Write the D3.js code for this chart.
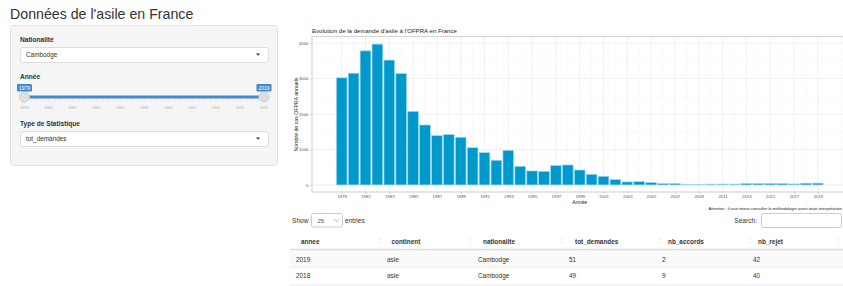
<!DOCTYPE html>
<html>
<head>
<meta charset="utf-8">
<script src="https://cdn.jsdelivr.net/npm/d3@7"></script>
<style>
html,body{margin:0;padding:0;background:#fff;overflow:hidden;}
svg{display:block;font-family:"Liberation Sans",Arial,Helvetica,sans-serif;}
</style>
</head>
<body>
<svg id="page" width="843" height="286"></svg>
<script>
// ---------- data ----------
const years = [1979,1980,1981,1982,1983,1984,1985,1986,1987,1988,
               1989,1990,1991,1992,1993,1994,1995,1996,1997,1998,
               1999,2000,2001,2002,2003,2004,2005,2006,2007,2008,
               2009,2010,2011,2012,2013,2014,2015,2016,2017,2018,2019];
const demandes = [3020,3150,3780,3970,3520,3140,2075,1690,1390,1420,
                  1345,1050,910,695,975,525,395,385,545,563,
                  422,300,244,150,85,94,66,38,38,19,
                  19,25,25,25,40,40,40,40,28,49,51];
const xTickYears = [1979,1981,1983,1985,1987,1989,1991,1993,1995,1997,1999,
                    2001,2003,2005,2007,2009,2011,2013,2015,2017,2019];
const yTickValues = [0,1000,2000,3000,4000];
const yMinorValues = [500,1500,2500,3500];
const sliderLabels = [1979,1983,1987,1991,1995,1999,2003,2007,2011,2015,2019];
const tableColumns = ["annee","continent","nationalite","tot_demandes","nb_accords","nb_rejet"];
const tableRows = [[2019,"asie","Cambodge",51,2,42],
                   [2018,"asie","Cambodge",49,9,40]];
const pageTitle = "Données de l'asile en France";
const chartTitle = "Evolution de la demande d'asile à l'OFPRA en France";
const yTitle = "Nombre de cas OFPRA annuels";
const xTitle = "Année";
const caption = "Attention : il vaut mieux consulter la méthodologie avant toute interprétation";

const svg = d3.select("#page");

// ---------- page title ----------
svg.append("text").attr("x",10).attr("y",18.5).attr("font-size",14.2)
  .attr("fill","#333").text(pageTitle);

// ---------- sidebar well ----------
svg.append("rect").attr("x",10.5).attr("y",25.5).attr("width",267).attr("height",140)
  .attr("rx",3).attr("fill","#f5f5f5").attr("stroke","#e3e3e3");

function label(x,y,t){
  svg.append("text").attr("x",x).attr("y",y).attr("font-size",6.6).attr("font-weight","bold")
    .attr("fill","#333").text(t);
}
function selectBox(x,y,w,h,t){
  svg.append("rect").attr("x",x+0.5).attr("y",y+0.5).attr("width",w).attr("height",h)
    .attr("rx",2.5).attr("fill","#fff").attr("stroke","#ddd");
  svg.append("text").attr("x",x+6).attr("y",y+h/2+2.3).attr("font-size",6.4)
    .attr("fill","#333").text(t);
  const cx = x+w-10, cy = y+h/2;
  svg.append("path").attr("d",`M${cx-2},${cy-1}L${cx+2},${cy-1}L${cx},${cy+1.3}Z`).attr("fill","#333");
}
label(20,41.5,"Nationalité");
selectBox(20,47,248,15,"Cambodge");
label(20,79,"Année");
label(20,126,"Type de Statistique");
selectBox(20,131,248,15,"tot_demandes");

// ---------- slider ----------
const sx = d3.scaleLinear().domain([1979,2019]).range([24.5,264]);
svg.append("rect").attr("x",sx(1979)-1).attr("y",95.5).attr("width",sx(2019)-sx(1979)+2).attr("height",3)
  .attr("rx",1.5).attr("fill","#428bca");
const minor = years;
svg.append("g").selectAll("line").data(minor).join("line")
  .attr("x1",d=>sx(d)).attr("x2",d=>sx(d))
  .attr("y1",99.5).attr("y2",d=>sliderLabels.includes(d)?102:101)
  .attr("stroke","#bbb").attr("stroke-width",0.4);
svg.append("g").selectAll("text").data(sliderLabels).join("text")
  .attr("x",d=>sx(d)).attr("y",108.5).attr("text-anchor","middle")
  .attr("font-size",3.6).attr("fill","#aaa").text(d=>d);
[1979,2019].forEach(v=>{
  svg.append("circle").attr("cx",sx(v)).attr("cy",97).attr("r",5.2)
    .attr("fill","#dedede").attr("stroke","#c8c8c8").attr("stroke-width",0.6);
  svg.append("rect").attr("x",sx(v)-7.5).attr("y",84).attr("width",15).attr("height",7.5)
    .attr("rx",1.2).attr("fill","#428bca");
  svg.append("text").attr("x",sx(v)).attr("y",89.8).attr("text-anchor","middle")
    .attr("font-size",5).attr("fill","#fff").text(v);
});

// ---------- chart ----------
const panel = {l:312, r:847.4, t:37, b:192};
const x = d3.scaleLinear().domain([1976.505,2021.495]).range([panel.l,panel.r]);
const y = d3.scaleLinear().domain([-198.6,4170.6]).range([panel.b,panel.t]);
const barW = (x(1)-x(0))*0.9;

svg.append("text").attr("x",312).attr("y",33).attr("font-size",6.1).attr("fill","#222").text(chartTitle);

const g = svg.append("g");
g.selectAll(".vmin").data(xTickYears.slice(0,-1).map(d=>d+1).concat([1977,2021])).join("line")
  .attr("x1",d=>x(d)).attr("x2",d=>x(d)).attr("y1",panel.t).attr("y2",panel.b)
  .attr("stroke","#f4f4f4").attr("stroke-width",0.5);
g.selectAll(".hmin").data(yMinorValues).join("line")
  .attr("x1",panel.l).attr("x2",panel.r).attr("y1",d=>y(d)).attr("y2",d=>y(d))
  .attr("stroke","#f4f4f4").attr("stroke-width",0.5);
g.selectAll(".vmaj").data(xTickYears).join("line")
  .attr("x1",d=>x(d)).attr("x2",d=>x(d)).attr("y1",panel.t).attr("y2",panel.b)
  .attr("stroke","#ececec").attr("stroke-width",0.8);
g.selectAll(".hmaj").data(yTickValues).join("line")
  .attr("x1",panel.l).attr("x2",panel.r).attr("y1",d=>y(d)).attr("y2",d=>y(d))
  .attr("stroke","#ececec").attr("stroke-width",0.8);

g.selectAll(".bar").data(years.map((yr,i)=>({yr,v:demandes[i]}))).join("rect")
  .attr("x",d=>x(d.yr)-barW/2).attr("width",barW)
  .attr("y",d=>y(d.v)).attr("height",d=>y(0)-y(d.v))
  .attr("fill","#0099cc").attr("stroke","#9fd8ef").attr("stroke-width",0.7);

svg.append("rect").attr("x",panel.l).attr("y",panel.t-0.5).attr("width",panel.r-panel.l).attr("height",panel.b-panel.t+0.5)
  .attr("fill","none").attr("stroke","#d6d6d6").attr("stroke-width",1.2);

const yAxis = svg.append("g").attr("transform",`translate(${panel.l},0)`)
  .call(d3.axisLeft(y).tickValues(yTickValues).tickFormat(d3.format("d")).tickSize(2).tickPadding(1.5));
const xAxis = svg.append("g").attr("transform",`translate(0,${panel.b})`)
  .call(d3.axisBottom(x).tickValues(xTickYears).tickFormat(d3.format("d")).tickSize(2).tickPadding(1.2));
[yAxis,xAxis].forEach(a=>{
  a.select(".domain").remove();
  a.selectAll("line").attr("stroke","#c4c4c4").attr("stroke-width",0.6);
  a.selectAll("text").attr("font-size",4.3).attr("fill","#555").attr("font-family","Liberation Sans, Arial, sans-serif");
});

svg.append("text").attr("transform",`translate(298,${(panel.t+panel.b)/2}) rotate(-90)`)
  .attr("text-anchor","middle").attr("font-size",5.2).attr("fill","#222").text(yTitle);
svg.append("text").attr("x",(panel.l+panel.r)/2).attr("y",204).attr("text-anchor","middle")
  .attr("font-size",5.2).attr("fill","#222").text(xTitle);
svg.append("text").attr("x",842).attr("y",209.5).attr("text-anchor","end")
  .attr("font-size",4).attr("fill","#222").text(caption);

// ---------- table controls ----------
svg.append("text").attr("x",292).attr("y",222.5).attr("font-size",6.6).attr("fill","#333").text("Show");
svg.append("rect").attr("x",311.5).attr("y",213.5).attr("width",31).attr("height",13.5)
  .attr("rx",2).attr("fill","#fff").attr("stroke","#ccc");
svg.append("text").attr("x",317.5).attr("y",222.5).attr("font-size",6).attr("fill","#555").text("25");
svg.append("path").attr("d","M334.5,219.5L336.5,221.5L338.5,219.5").attr("fill","none").attr("stroke","#777").attr("stroke-width",0.6);
svg.append("text").attr("x",345).attr("y",222.5).attr("font-size",6.6).attr("fill","#333").text("entries");
svg.append("text").attr("x",757).attr("y",222.5).attr("text-anchor","end").attr("font-size",6.6).attr("fill","#333").text("Search:");
svg.append("rect").attr("x",761.5).attr("y",213.5).attr("width",80).attr("height",14)
  .attr("rx",2).attr("fill","#fff").attr("stroke","#ccc");

// ---------- table ----------
const textX = [301,391.5,483,575,668,758];
const iconX = [380,470,562,660,750,838];
const bodyX = [296,387,478,569,662,753];
const tbl = svg.append("g");
tbl.selectAll(".hd").data(tableColumns).join("text")
  .attr("x",(d,i)=>textX[i]).attr("y",243.5).attr("font-size",6.4).attr("font-weight","bold")
  .attr("fill","#333").text(d=>d);
iconX.forEach(ix=>{
  tbl.append("path").attr("d",`M${ix-1.2},240.3L${ix+1.2},240.3L${ix},238.6Z M${ix-1.2},242.3L${ix+1.2},242.3L${ix},244Z`)
    .attr("fill","#e2e2e2");
});
tbl.append("rect").attr("x",290).attr("y",249.5).attr("width",553).attr("height",18.5).attr("fill","#f9f9f9");
tbl.append("line").attr("x1",290).attr("x2",843).attr("y1",249.5).attr("y2",249.5).attr("stroke","#ddd").attr("stroke-width",1.5);
tbl.append("line").attr("x1",290).attr("x2",843).attr("y1",267.5).attr("y2",267.5).attr("stroke","#ececec").attr("stroke-width",0.6);
tbl.append("line").attr("x1",290).attr("x2",843).attr("y1",285).attr("y2",285).attr("stroke","#e5e5e5").attr("stroke-width",0.8);
tableRows.forEach((row,ri)=>{
  tbl.selectAll(".r"+ri).data(row).join("text")
    .attr("x",(d,i)=>bodyX[i]).attr("y",261.5+ri*16.8).attr("font-size",6.4)
    .attr("fill","#333").text(d=>d);
});
</script>
</body>
</html>
